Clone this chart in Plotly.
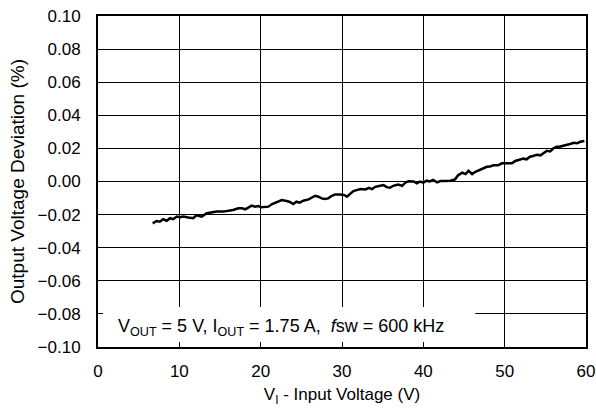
import plotly.graph_objects as go

vin = [6.72, 7.2, 7.6, 8.0, 8.45, 8.86, 9.26, 9.68, 10.09, 10.5, 11.1, 11.7, 12.1, 12.75,
       13.37, 13.99, 14.6, 15.4, 16.2, 16.6, 17.26, 17.7, 18.1, 18.5, 18.9, 19.3, 19.7,
       20.1, 20.95, 21.4, 22.0, 22.6, 23.2, 23.6, 24.0, 24.4, 24.8, 25.25, 25.9, 26.3,
       26.7, 27.1, 27.5, 27.9, 28.3, 28.7, 29.15, 29.8, 30.3, 30.6, 31.0, 31.4, 31.8,
       32.3, 32.9, 33.3, 33.7, 34.1, 34.7, 35.1, 35.5, 35.9, 36.3, 36.9, 37.4, 37.8,
       38.2, 38.8, 39.2, 39.6, 40.0, 40.4, 40.8, 41.2, 41.7, 42.1, 42.7, 43.3, 43.9,
       44.3, 44.8, 45.2, 45.55, 46.0, 46.4, 46.8, 47.4, 47.8, 48.2, 48.6, 49.2, 49.65,
       50.3, 50.9, 51.3, 51.9, 52.3, 52.7, 53.1, 53.5, 53.96, 54.4, 54.8, 55.2, 55.6,
       56.0, 56.4, 56.8, 57.2, 57.6, 58.05, 58.5, 58.9, 59.3, 59.8]
deviation = [-0.0253, -0.0239, -0.0243, -0.0228, -0.0237, -0.0222, -0.0228, -0.0212, -0.0216,
             -0.0212, -0.0218, -0.0222, -0.0204, -0.0212, -0.0192, -0.0186, -0.0182, -0.0182,
             -0.0178, -0.0172, -0.0162, -0.0162, -0.0168, -0.0156, -0.0146, -0.0152, -0.0148,
             -0.0156, -0.0152, -0.0136, -0.0122, -0.0112, -0.0118, -0.0124, -0.0136, -0.0122,
             -0.0128, -0.0116, -0.0108, -0.0096, -0.0086, -0.0092, -0.0102, -0.0106, -0.0102,
             -0.0088, -0.0078, -0.0078, -0.0082, -0.0092, -0.0072, -0.0058, -0.0052, -0.0046,
             -0.0048, -0.0038, -0.0046, -0.0032, -0.0026, -0.0022, -0.0034, -0.0038, -0.0026,
             -0.0018, -0.0026, -0.0006, 0.0002, 0.0, -0.0011, 0.0, -0.0007, 0.0005, 0.0,
             0.0009, -0.0005, 0.0003, 0.0003, 0.0005, 0.0013, 0.0039, 0.0053, 0.0045, 0.0065,
             0.0045, 0.0059, 0.0069, 0.0080, 0.0089, 0.0090, 0.0098, 0.0098, 0.0110, 0.0110,
             0.0110, 0.0124, 0.0130, 0.0138, 0.0134, 0.0150, 0.0154, 0.0162, 0.0158, 0.0174,
             0.0186, 0.0182, 0.0201, 0.0210, 0.0210, 0.0216, 0.0220, 0.0227, 0.0234, 0.0231,
             0.0240, 0.0245]

x_ticks = [0, 10, 20, 30, 40, 50, 60]
y_ticks = [-0.10, -0.08, -0.06, -0.04, -0.02, 0.00, 0.02, 0.04, 0.06, 0.08, 0.10]
condition_text = "V<sub>OUT</sub> = 5 V, I<sub>OUT</sub> = 1.75 A,\u00a0 <i>f</i>sw = 600 kHz"

FONT = "Liberation Sans, Arial, sans-serif"

fig = go.Figure()
fig.add_trace(go.Scatter(x=vin, y=deviation, mode="lines",
                         line=dict(color="black", width=2.5), showlegend=False))

fig.add_shape(type="rect", xref="x", yref="y", x0=0, x1=46.4, y0=-0.1, y1=-0.0758,
              fillcolor="white", line=dict(width=0), layer="between")
fig.add_annotation(x=0.037, xref="paper", y=-0.0885, yref="y", text=condition_text,
                   showarrow=False, xanchor="left", yanchor="middle",
                   font=dict(family=FONT, size=18, color="black"))

axis_common = dict(showline=True, linecolor="black", linewidth=2, mirror=True,
                   showgrid=True, gridcolor="black", gridwidth=1, zeroline=False,
                   ticks="inside", ticklen=5, tickcolor="black", automargin=False,
                   ticklabeloverflow="allow",
                   tickfont=dict(family=FONT, size=17, color="black"))

fig.update_xaxes(range=[0, 60], tickvals=x_ticks, ticklabelstandoff=8,
                 title=dict(text="V<sub>I</sub> - Input Voltage (V)", standoff=8,
                            font=dict(family=FONT, size=17, color="black")),
                 **axis_common)
fig.update_yaxes(range=[-0.10, 0.10], tickvals=y_ticks, tickformat=".2f",
                 ticklabelstandoff=12,
                 title=dict(text="Output Voltage Deviation (%)", standoff=8,
                            font=dict(family=FONT, size=19, color="black")),
                 **axis_common)

fig.update_layout(width=596, height=408, margin=dict(l=98, r=10, t=16, b=61),
                  plot_bgcolor="white", paper_bgcolor="white",
                  font=dict(family=FONT, color="black"))

fig.write_html("out.html", config={"displayModeBar": False},
               post_script="document.body.style.margin='0';document.body.style.overflow='hidden';")
